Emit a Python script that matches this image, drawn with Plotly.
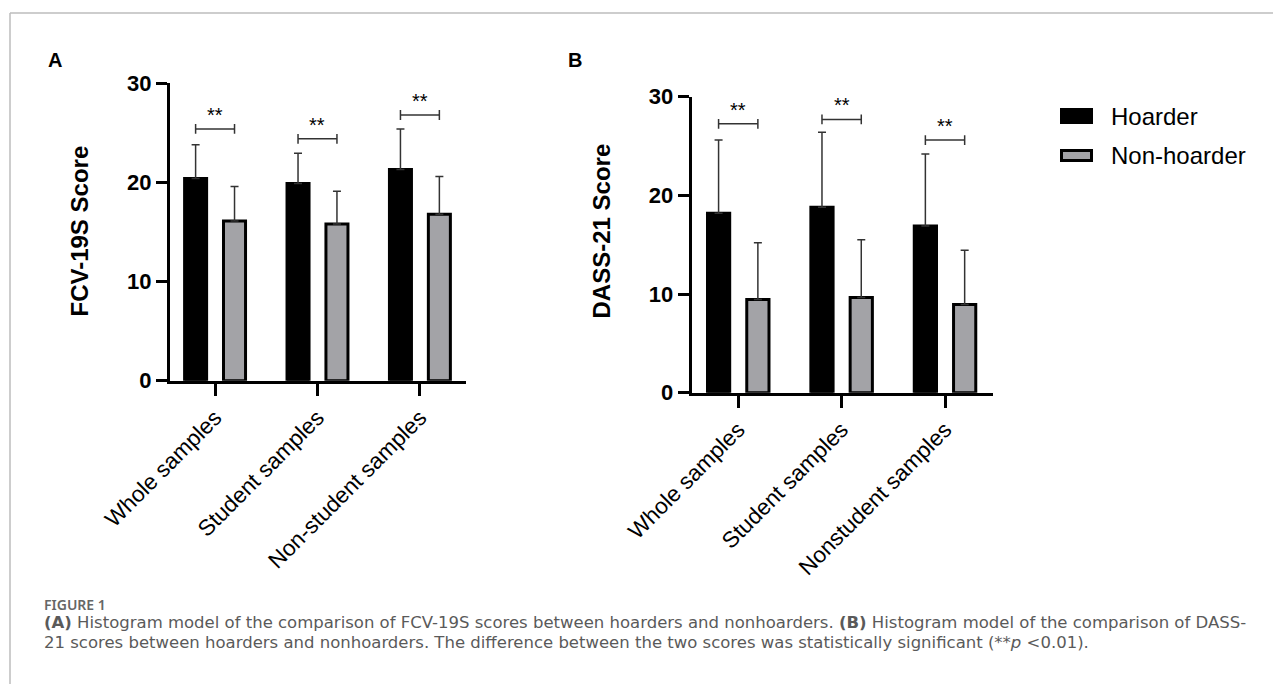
import plotly.graph_objects as go

# ---------------- data ----------------
cats_a = ["Whole samples", "Student samples", "Non-student samples"]
cats_b = ["Whole samples", "Student samples", "Nonstudent samples"]
series_names = ["Hoarder", "Non-hoarder"]

fcv_hoarder = [20.4, 19.9, 21.3]
fcv_hoarder_sd = [3.4, 3.05, 4.1]
fcv_non = [16.1, 15.8, 16.8]
fcv_non_sd = [3.5, 3.3, 3.8]

dass_hoarder = [18.2, 18.8, 16.9]
dass_hoarder_sd = [7.4, 7.6, 7.3]
dass_non = [9.45, 9.65, 8.95]
dass_non_sd = [5.75, 5.85, 5.5]

sig_a = [25.4, 24.4, 26.8]
sig_b = [27.25, 27.7, 25.6]
sig_text = "**"

yticks = [0, 10, 20, 30]

# ---------------- layout helpers ----------------
W, H = 1281, 684
PAGE_OFF = 8  # page body margin
def px(x):
    return (x - PAGE_OFF) / W
def py(y):
    return 1 - (y - PAGE_OFF) / H

BLACK = "#000000"
GRAY = "#A3A3A7"
ERR = "#333333"
FONT = "Liberation Sans, Arial, sans-serif"
OFF = 0.19
BW = 0.215

fig = go.Figure()

def add_panel(xa, ya, h, hsd, n, nsd, sig):
    idx = list(range(len(h)))
    fig.add_trace(go.Bar(
        x=[i - OFF for i in idx], y=h, width=BW, name=series_names[0],
        marker=dict(color=BLACK, line=dict(color=BLACK, width=3)),
        error_y=dict(type="data", symmetric=False, array=hsd,
                     arrayminus=[0] * len(h), color=ERR, thickness=1.5, width=4),
        xaxis=xa, yaxis=ya, showlegend=False))
    fig.add_trace(go.Bar(
        x=[i + OFF for i in idx], y=n, width=BW, name=series_names[1],
        marker=dict(color=GRAY, line=dict(color=BLACK, width=3)),
        error_y=dict(type="data", symmetric=False, array=nsd,
                     arrayminus=[0] * len(n), color=ERR, thickness=1.5, width=4),
        xaxis=xa, yaxis=ya, showlegend=False))
    for i, s in zip(idx, sig):
        fig.add_trace(go.Scatter(
            x=[i - OFF, i + OFF], y=[s, s], mode="lines+markers",
            line=dict(color=ERR, width=1.5),
            marker=dict(symbol="line-ns-open", size=7, line=dict(color=ERR, width=1.5)),
            xaxis=xa, yaxis=ya, showlegend=False, hoverinfo="skip"))
        fig.add_annotation(x=i, y=s, xref=xa, yref=ya, text=sig_text,
                           showarrow=False, yanchor="middle", yshift=14,
                           font=dict(family=FONT, size=20, color=BLACK))

add_panel("x", "y", fcv_hoarder, fcv_hoarder_sd, fcv_non, fcv_non_sd, sig_a)
add_panel("x2", "y2", dass_hoarder, dass_hoarder_sd, dass_non, dass_non_sd, sig_b)

axis_common = dict(showline=True, linewidth=3, linecolor=BLACK, ticks="outside",
                   tickwidth=3, tickcolor=BLACK, showgrid=False, zeroline=False,
                   automargin=False)

fig.update_layout(
    width=W, height=H, margin=dict(l=0, r=0, t=0, b=0, pad=0, autoexpand=False),
    paper_bgcolor="white", plot_bgcolor="white", barmode="overlay",
    xaxis=dict(domain=[px(170), px(466)], range=[-0.44, 2.45], tickvals=[0, 1, 2],
               ticktext=cats_a, tickangle=-45, ticklen=12,
               tickfont=dict(family=FONT, size=22.5, color=BLACK), anchor="y", **axis_common),
    yaxis=dict(domain=[py(380.7), py(83.3)], range=[0, 30], tickvals=yticks, ticklen=11,
               tickfont=dict(family=FONT, size=22, color=BLACK, weight="bold"),
               anchor="x", **axis_common),
    xaxis2=dict(domain=[px(691.7), px(993.3)], range=[-0.45, 2.467], tickvals=[0, 1, 2],
                ticktext=cats_b, tickangle=-45, ticklen=12,
                tickfont=dict(family=FONT, size=22.5, color=BLACK), anchor="y2", **axis_common),
    yaxis2=dict(domain=[py(392.7), py(96.7)], range=[0, 30], tickvals=yticks, ticklen=11,
                tickfont=dict(family=FONT, size=22, color=BLACK, weight="bold"),
                anchor="x2", **axis_common),
)

def ann(text, x, y, size, xanchor="center", yanchor="middle", angle=0, bold=False,
        color=BLACK, family=FONT, weight=None):
    f = dict(family=family, size=size, color=color)
    if weight is not None:
        f["weight"] = weight
    elif bold:
        f["weight"] = "bold"
    fig.add_annotation(text=text, x=px(x), y=py(y), xref="paper", yref="paper",
                       showarrow=False, xanchor=xanchor, yanchor=yanchor,
                       textangle=angle, font=f, borderpad=0)

# axis titles
ann("FCV-19S Score", 79.5, 231, 24, angle=-90, bold=True)
ann("DASS-21 Score", 601, 231.5, 24, angle=-90, bold=True)
# panel letters
ann("A", 54.5, 59.5, 20, bold=True)
ann("B", 575, 60, 20, bold=True)

# legend (manual)
fig.add_shape(type="rect", xref="paper", yref="paper", x0=px(1060), x1=px(1093),
              y0=py(124), y1=py(108), fillcolor=BLACK, line=dict(width=0))
fig.add_shape(type="rect", xref="paper", yref="paper", x0=px(1061.5), x1=px(1091.5),
              y0=py(160.5), y1=py(150.5), fillcolor=GRAY, line=dict(color=BLACK, width=3))
ann(series_names[0], 1110, 116, 24, xanchor="left")
ann(series_names[1], 1110, 155.5, 24, xanchor="left")

# frame
fig.add_shape(type="line", xref="paper", yref="paper", x0=px(10), x1=1, y0=py(13), y1=py(13),
              line=dict(color="#BDBDBD", width=1.5))
fig.add_shape(type="line", xref="paper", yref="paper", x0=px(10), x1=px(10), y0=py(13), y1=0,
              line=dict(color="#BDBDBD", width=1.5))

# caption
CAP = "DejaVu Sans, Noto Sans, sans-serif"
ann("FIGURE 1", 43, 604, 14, xanchor="left", color="#666666", family="Noto Sans", weight=600)
ann("<b>(A)</b> Histogram model of the comparison of FCV-19S scores between hoarders and "
    "nonhoarders. <b>(B)</b> Histogram model of the comparison of DASS-",
    43, 622, 16.5, xanchor="left", color="#5A5A5A", family=CAP)
ann("21 scores between hoarders and nonhoarders. The difference between the two scores "
    "was statistically significant (**<i>p</i> &lt;0.01).",
    43, 642, 16.5, xanchor="left", color="#5A5A5A", family=CAP)

fig.write_html("out.html")
